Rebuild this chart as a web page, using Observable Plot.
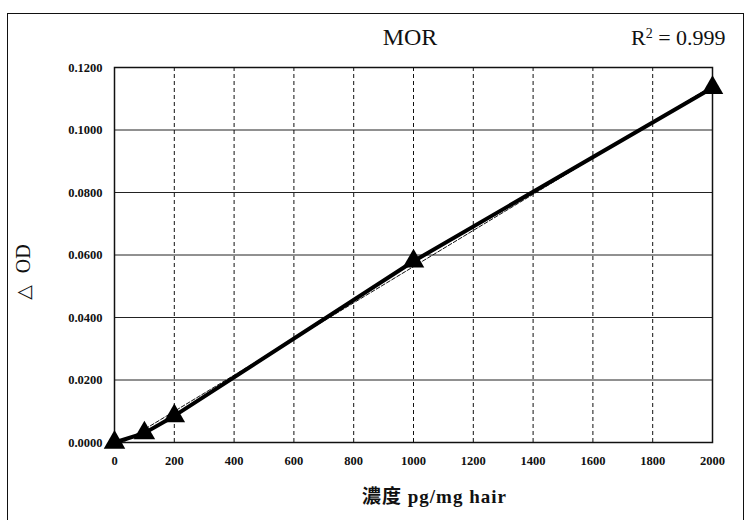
<!DOCTYPE html>
<html><head><meta charset="utf-8">
<script src="https://cdn.jsdelivr.net/npm/d3@7"></script>
<script src="https://cdn.jsdelivr.net/npm/@observablehq/plot@0.6"></script>
<style>
body{margin:0;background:#fff;}
#wrap{position:relative;width:747px;height:520px;overflow:hidden;font-family:"Liberation Serif","Noto Sans CJK TC",serif;}
#border{position:absolute;left:7px;top:13px;width:737px;height:520px;border:1.5px solid #111;border-bottom:none;box-sizing:border-box;}
.t{position:absolute;color:#111;white-space:nowrap;}
</style></head>
<body><div id="wrap"><div id="border"></div><div id="chart"></div>
<div class="t" style="left:410px;top:24px;transform:translateX(-50%);font-size:24px;">MOR</div>
<div class="t" style="left:631px;top:25px;font-size:22px;">R<span style="font-size:14px;vertical-align:7px;">2</span> = 0.999</div>
<div class="t" style="left:362px;top:481px;font-size:19px;font-weight:bold;letter-spacing:1px;">濃度 pg/mg hair</div>
<div class="t" style="left:23px;top:272px;transform:translate(-50%,-50%) rotate(-90deg);font-size:20px;"><span style="font-family:'DejaVu Sans';font-size:19px;margin-right:12px;">△</span>OD</div>
</div>
<script>
const conc = [0, 100, 200, 1000, 2000];
const od = [0, 0.003, 0.0085, 0.058, 0.1135];
const xTicks = [0,200,400,600,800,1000,1200,1400,1600,1800,2000];
const yTicks = [0,0.02,0.04,0.06,0.08,0.10,0.12];
const data = conc.map((c,i)=>({c, od: od[i]}));

const chart = Plot.plot({
  width: 747, height: 520,
  marginLeft: 114, marginRight: 35, marginTop: 67, marginBottom: 78,
  style: {fontFamily: '"Liberation Serif", serif', fontSize: "12.5px", fontWeight: "bold", color: "#111", background: "transparent"},
  x: {domain: [0, 2000], ticks: xTicks, tickSize: 0, tickPadding: 14, tickFormat: d3.format("d"), label: null},
  y: {domain: [0, 0.12], ticks: yTicks, tickSize: 0, tickPadding: 12, tickFormat: d3.format(".4f"), label: null},
  marks: [
    Plot.ruleY(yTicks, {stroke: "#222", strokeWidth: 1}),
    Plot.ruleX(xTicks, {stroke: "#111", strokeWidth: 1, strokeDasharray: "4,3"}),
    Plot.frame({stroke: "#111", strokeWidth: 1.5}),
    Plot.linearRegressionY(data, {x: "c", y: "od", stroke: "#111", strokeWidth: 1, strokeDasharray: "4,2", ci: 0}),
    Plot.line(data, {x: "c", y: "od", stroke: "#000", strokeWidth: 4}),
    Plot.dot(data, {x: "c", y: "od", symbol: "triangle", r: 8, fill: "#000", stroke: null})
  ]
});
document.getElementById("chart").append(chart);
</script></body></html>
